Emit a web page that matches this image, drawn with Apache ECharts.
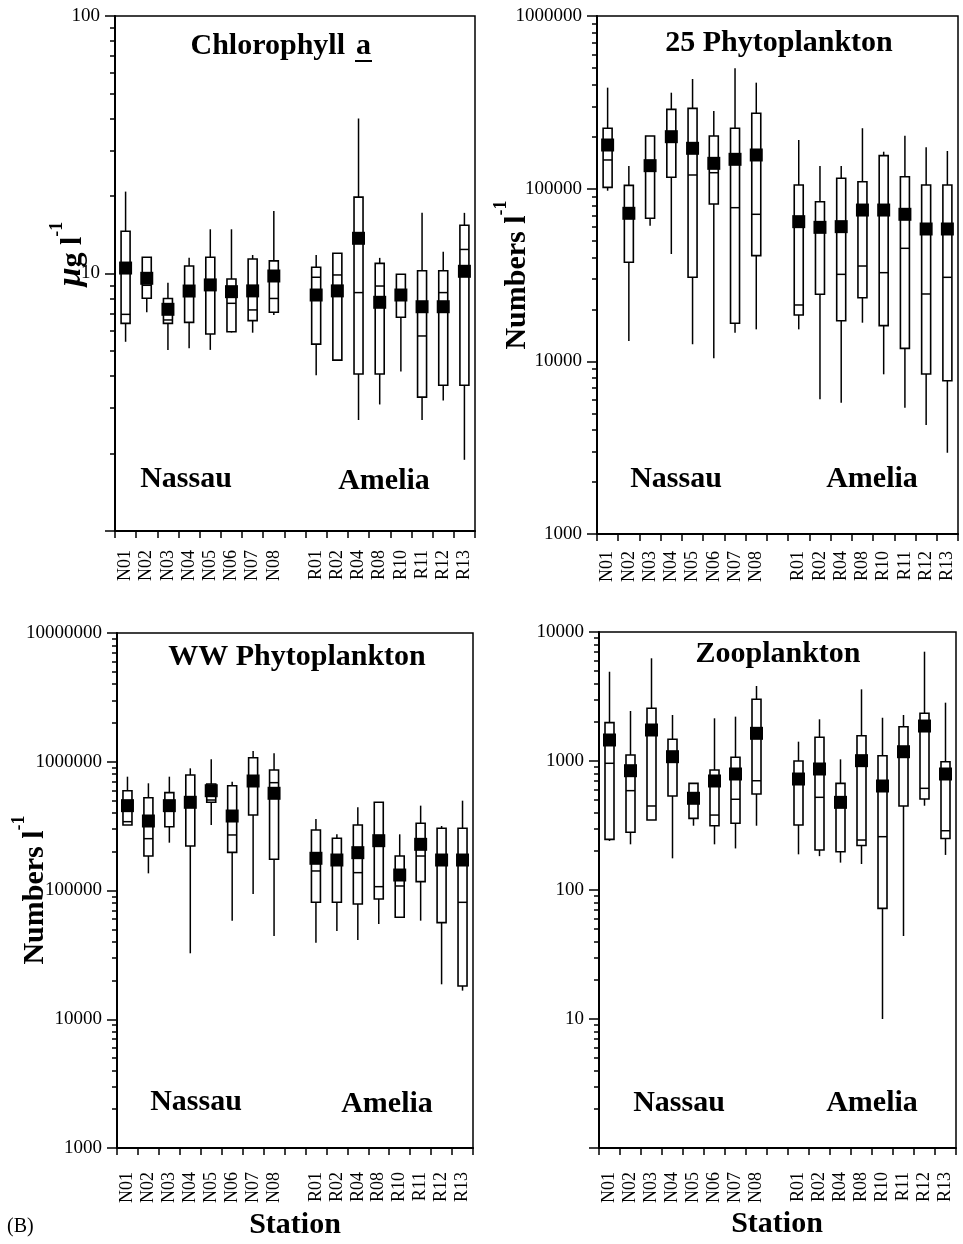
<!DOCTYPE html>
<html>
<head>
<meta charset="utf-8">
<script src="https://cdn.jsdelivr.net/npm/echarts@6/dist/echarts.min.js"></script>
<style>
  html, body { margin: 0; padding: 0; background: #fff; }
  #chart { width: 963px; height: 1244px; }
</style>
</head>
<body>
<div id="chart"></div>
<script>
// Stations along the x axis; the blank slot separates Nassau from Amelia.
const stations = ['N01', 'N02', 'N03', 'N04', 'N05', 'N06', 'N07', 'N08', ' ',
                  'R01', 'R02', 'R04', 'R08', 'R10', 'R11', 'R12', 'R13'];
const sampled = stations.filter(s => s.trim() !== '');

// Chlorophyll a (µg l-1): whisker min, lower quartile, median, upper quartile, whisker max, mean
const chlMin  = [5.43, 7.07, 5.05, 5.12, 5.05, 5.9, 5.89, 6.9, 4.03, 4.61, 2.70, 3.1, 4.16, 2.7, 3.21, 1.89];
const chlQ1   = [6.4, 8.01, 6.4, 6.46, 5.82, 5.94, 6.56, 7.07, 5.32, 4.61, 4.07, 4.07, 6.76, 3.31, 3.68, 3.68];
const chlMed  = [6.94, 9.0, 6.6, 8.5, 9.2, 7.66, 7.22, 8.0, 9.67, 9.87, 8.43, 8.94, 7.9, 5.72, 8.43, 12.4];
const chlQ3   = [14.6, 11.56, 8.0, 10.7, 11.56, 9.52, 11.38, 11.2, 10.57, 11.98, 19.8, 10.95, 9.93, 10.25, 10.25, 15.4];
const chlMax  = [20.8, 11.56, 9.2, 11.5, 14.85, 14.85, 11.8, 17.5, 11.8, 11.98, 40.0, 11.5, 9.93, 17.2, 12.15, 17.2];
const chlMean = [10.5, 9.58, 7.26, 8.55, 9.03, 8.5, 8.56, 9.78, 8.25, 8.56, 13.7, 7.73, 8.25, 7.43, 7.43, 10.2];

// 25 µm phytoplankton (numbers l-1)
const p25Min  = [97300, 13120, 61030, 41830, 12550, 10410, 14650, 15320, 15320, 6030, 5760, 16740, 8410, 5390, 4280, 2958];
const p25Q1   = [101800, 37460, 67360, 116400, 30660, 81500, 16610, 40930, 18540, 24450, 17190, 23370, 16090, 11890, 8450, 7720];
const p25Med  = [146600, 70000, 130000, 195000, 120000, 123700, 77600, 71050, 21200, 58000, 31900, 35650, 32620, 45140, 24550, 30660];
const p25Q3   = [223900, 104500, 201800, 288000, 291600, 201800, 223900, 273200, 105000, 84050, 114800, 109700, 155300, 117300, 105000, 105000];
const p25Max  = [384600, 135300, 201800, 359600, 431600, 281600, 497700, 411000, 191400, 135300, 135300, 223900, 163700, 202600, 173600, 165200];
const p25Mean = [179000, 72000, 135900, 200000, 171300, 140200, 147900, 156700, 64400, 59700, 60260, 75200, 75200, 71050, 58400, 58400];

// Whole-water phytoplankton (numbers l-1)
const wwMin  = [322700, 135900, 235200, 32530, 322700, 58290, 93940, 44330, 39340, 48450, 41260, 54930, 61920, 58290, 18680, 16680];
const wwQ1   = [322700, 185300, 313000, 221600, 484200, 197900, 385600, 174700, 80950, 80950, 78550, 85900, 61920, 117100, 56250, 18120];
const wwMed  = [342400, 252700, 440000, 480000, 504500, 270000, 700000, 687900, 141800, 170000, 137600, 107100, 108400, 185300, 170000, 80950];
const wwQ3   = [595900, 525800, 575500, 788900, 671500, 651200, 1075000, 862900, 295100, 254300, 322700, 484200, 185300, 332700, 304100, 304100];
const wwMax  = [765600, 680200, 765600, 889200, 1045000, 700000, 1212000, 1163000, 359200, 273200, 442800, 484200, 273200, 456000, 316900, 498500];
const wwMean = [456000, 346600, 456000, 484200, 595900, 378900, 708800, 568900, 177900, 172500, 196700, 243700, 131900, 228400, 172500, 172500];

// Zooplankton (numbers l-1)
const zooMin  = [240, 226, 349, 176, 315, 226, 210, 315, 189, 183, 163, 159, 10, 44, 450, 187];
const zooQ1   = [247, 280, 349, 535, 359, 315, 329, 555, 319, 204, 198, 221, 72, 448, 507, 251];
const zooMed  = [960, 589, 448, 1050, 514, 381, 505, 703, 720, 523, 478, 244, 259, 1180, 614, 288];
const zooQ3   = [1982, 1113, 2562, 1473, 671, 851, 1068, 3007, 1000, 1526, 671, 1570, 1099, 1845, 2343, 988];
const zooMax  = [4920, 2441, 6255, 2273, 671, 2143, 2207, 3814, 1412, 2105, 1030, 3594, 2166, 2273, 7036, 2832];
const zooMean = [1455, 841, 1739, 1080, 514, 700, 793, 1639, 725, 867, 478, 1006, 640, 1180, 1867, 793];

// Axis tick labels per panel
const chlLabels = [10, 100];
const p25Labels = [1000, 10000, 100000, 1000000];
const wwLabels  = [1000, 10000, 100000, 1000000, 10000000];
const zooLabels = [10, 100, 1000, 10000];

const SERIF = '"Liberation Serif", "Times New Roman", serif';

// exponents of the 2..9 sub-divisions inside every decade between lo and hi
function minorExponents(lo, hi) {
  const out = [];
  for (let d = lo; d < hi * 0.999; d *= 10) {
    for (let m = 2; m <= 9; m++) out.push(Math.log10(d * m));
  }
  return out;
}

const panels = [
  { grid: { left: 115, top: 16, width: 360, height: 515 }, min: 1, max: 100, labels: chlLabels,
    stats: [chlMin, chlQ1, chlMed, chlQ3, chlMax], mean: chlMean, xMargin: 19 },
  { grid: { left: 597, top: 16, width: 361, height: 518 }, min: 1000, max: 1000000, labels: p25Labels,
    stats: [p25Min, p25Q1, p25Med, p25Q3, p25Max], mean: p25Mean, xMargin: 17 },
  { grid: { left: 117, top: 633, width: 356, height: 515 }, min: 1000, max: 10000000, labels: wwLabels,
    stats: [wwMin, wwQ1, wwMed, wwQ3, wwMax], mean: wwMean, xMargin: 24 },
  { grid: { left: 599, top: 632, width: 357, height: 516 }, min: 1, max: 10000, labels: zooLabels,
    stats: [zooMin, zooQ1, zooMed, zooQ3, zooMax], mean: zooMean, xMargin: 24 }
];

const grids = [], xAxes = [], yAxes = [], series = [];

// whisker line behind an open box with a median bar
function renderBox(params, api) {
  const x = api.value(0);
  const lo = api.coord([x, api.value(1)]);
  const q1 = api.coord([x, api.value(2)]);
  const md = api.coord([x, api.value(3)]);
  const q3 = api.coord([x, api.value(4)]);
  const hi = api.coord([x, api.value(5)]);
  const half = 4.5;
  const ink = { stroke: '#000', lineWidth: 1.5 };
  return {
    type: 'group',
    children: [
      { type: 'line', shape: { x1: lo[0], y1: lo[1], x2: hi[0], y2: hi[1] }, style: ink },
      { type: 'rect', shape: { x: q3[0] - half, y: q3[1], width: half * 2, height: Math.max(q1[1] - q3[1], 0.5) },
        style: { fill: '#fff', stroke: '#000', lineWidth: 1.6 } },
      { type: 'line', shape: { x1: md[0] - half, y1: md[1], x2: md[0] + half, y2: md[1] }, style: ink }
    ]
  };
}

panels.forEach((p, i) => {
  grids.push(Object.assign({ show: true, borderColor: '#000', borderWidth: 1.5, backgroundColor: 'transparent' }, p.grid));

  xAxes.push({
    type: 'category', gridIndex: i, data: stations, boundaryGap: true,
    axisLine: { lineStyle: { color: '#000', width: 2 } },
    axisTick: { show: true, alignWithLabel: false, interval: 0, length: 7, lineStyle: { color: '#000', width: 1.5 } },
    axisLabel: { interval: 0, rotate: 90, margin: p.xMargin, fontFamily: SERIF, fontSize: 18, color: '#000' },
    splitLine: { show: false }
  });

  // log axis carrying the data, decade ticks and labels
  yAxes.push({
    type: 'log', logBase: 10, gridIndex: i, min: p.min, max: p.max, position: 'left',
    axisLine: { show: true, lineStyle: { color: '#000', width: 2 } },
    axisTick: { show: true, length: 10, lineStyle: { color: '#000', width: 1.5 } },
    axisLabel: { show: true, customValues: p.labels, margin: 15, fontFamily: SERIF, fontSize: 19, color: '#000',
                 formatter: v => String(Math.round(v)) },
    splitLine: { show: false }
  });
  // companion axis in exponent units, used only for the short 2..9 ticks
  yAxes.push({
    type: 'value', gridIndex: i, min: Math.log10(p.min), max: Math.log10(p.max), position: 'left',
    axisLine: { show: false },
    axisTick: { show: true, length: 5, customValues: minorExponents(p.min, p.max), lineStyle: { color: '#000', width: 1.5 } },
    axisLabel: { show: false },
    splitLine: { show: false }
  });

  const boxData = sampled.map((s, k) => [s, p.stats[0][k], p.stats[1][k], p.stats[2][k], p.stats[3][k], p.stats[4][k]]);
  series.push({
    type: 'custom', xAxisIndex: i, yAxisIndex: i * 2, z: 2,
    renderItem: renderBox,
    encode: { x: 0, y: [1, 2, 3, 4, 5] },
    data: boxData, silent: true, animation: false
  });
  series.push({
    type: 'scatter', xAxisIndex: i, yAxisIndex: i * 2, z: 3,
    symbol: 'rect', symbolSize: 13,
    itemStyle: { color: '#000', opacity: 1 },
    data: sampled.map((s, k) => [s, p.mean[k]]),
    silent: true, animation: false
  });
});

function label(text, x, y, size, extra) {
  return Object.assign({
    type: 'text', x: x, y: y, z: 10,
    style: { text: text, x: 0, y: 0, align: 'center', verticalAlign: 'middle',
             font: 'bold ' + size + 'px ' + SERIF, fill: '#000' }
  }, extra || {});
}

const unitRich = {
  m:  { fontSize: 30, fontWeight: 'bold', fontFamily: SERIF, verticalAlign: 'bottom', lineHeight: 40 },
  mu: { fontSize: 34, fontWeight: 'bold', fontStyle: 'italic', fontFamily: SERIF, verticalAlign: 'bottom', lineHeight: 40 },
  s:  { fontSize: 18, fontWeight: 'bold', fontFamily: SERIF, verticalAlign: 'top', lineHeight: 40 }
};
function unitTitle(text, x, y) {
  return {
    type: 'text', x: x, y: y, rotation: Math.PI / 2, z: 10,
    style: { text: text, x: 0, y: 0, align: 'center', verticalAlign: 'middle', rich: unitRich, fill: '#000' }
  };
}

const graphics = [
  // panel titles
  { type: 'text', x: 345, y: 46, z: 10, style: { text: 'Chlorophyll', align: 'right', verticalAlign: 'middle', font: 'bold 30px ' + SERIF, fill: '#000' } },
  { type: 'text', x: 356, y: 46, z: 10, style: { text: 'a', align: 'left', verticalAlign: 'middle', font: 'bold 30px ' + SERIF, fill: '#000' } },
  { type: 'line', z: 10, shape: { x1: 355, y1: 61, x2: 372, y2: 61 }, style: { stroke: '#000', lineWidth: 2 } },
  label('25 Phytoplankton', 779, 43, 30),
  label('WW Phytoplankton', 297, 657, 30),
  label('Zooplankton', 778, 654, 30),
  // group names
  label('Nassau', 186, 479, 30), label('Amelia', 384, 481, 30),
  label('Nassau', 676, 479, 30), label('Amelia', 872, 479, 30),
  label('Nassau', 196, 1102, 30), label('Amelia', 387, 1104, 30),
  label('Nassau', 679, 1103, 30), label('Amelia', 872, 1103, 30),
  // x axis titles
  label('Station', 295, 1225, 30), label('Station', 777, 1224, 30),
  { type: 'text', x: 7, y: 1227, z: 10, style: { text: '(B)', align: 'left', verticalAlign: 'middle', font: '20px ' + SERIF, fill: '#000' } },
  // y axis unit titles
  unitTitle('{mu|μ}{m|g l}{s|-1}', 68, 254),
  unitTitle('{m|Numbers l}{s|-1}', 512, 275),
  unitTitle('{m|Numbers l}{s|-1}', 30, 890)
];

const chart = echarts.init(document.getElementById('chart'), null, { renderer: 'canvas' });
chart.setOption({
  backgroundColor: '#fff',
  animation: false,
  grid: grids,
  xAxis: xAxes,
  yAxis: yAxes,
  series: series,
  graphic: graphics
});
</script>
</body>
</html>
